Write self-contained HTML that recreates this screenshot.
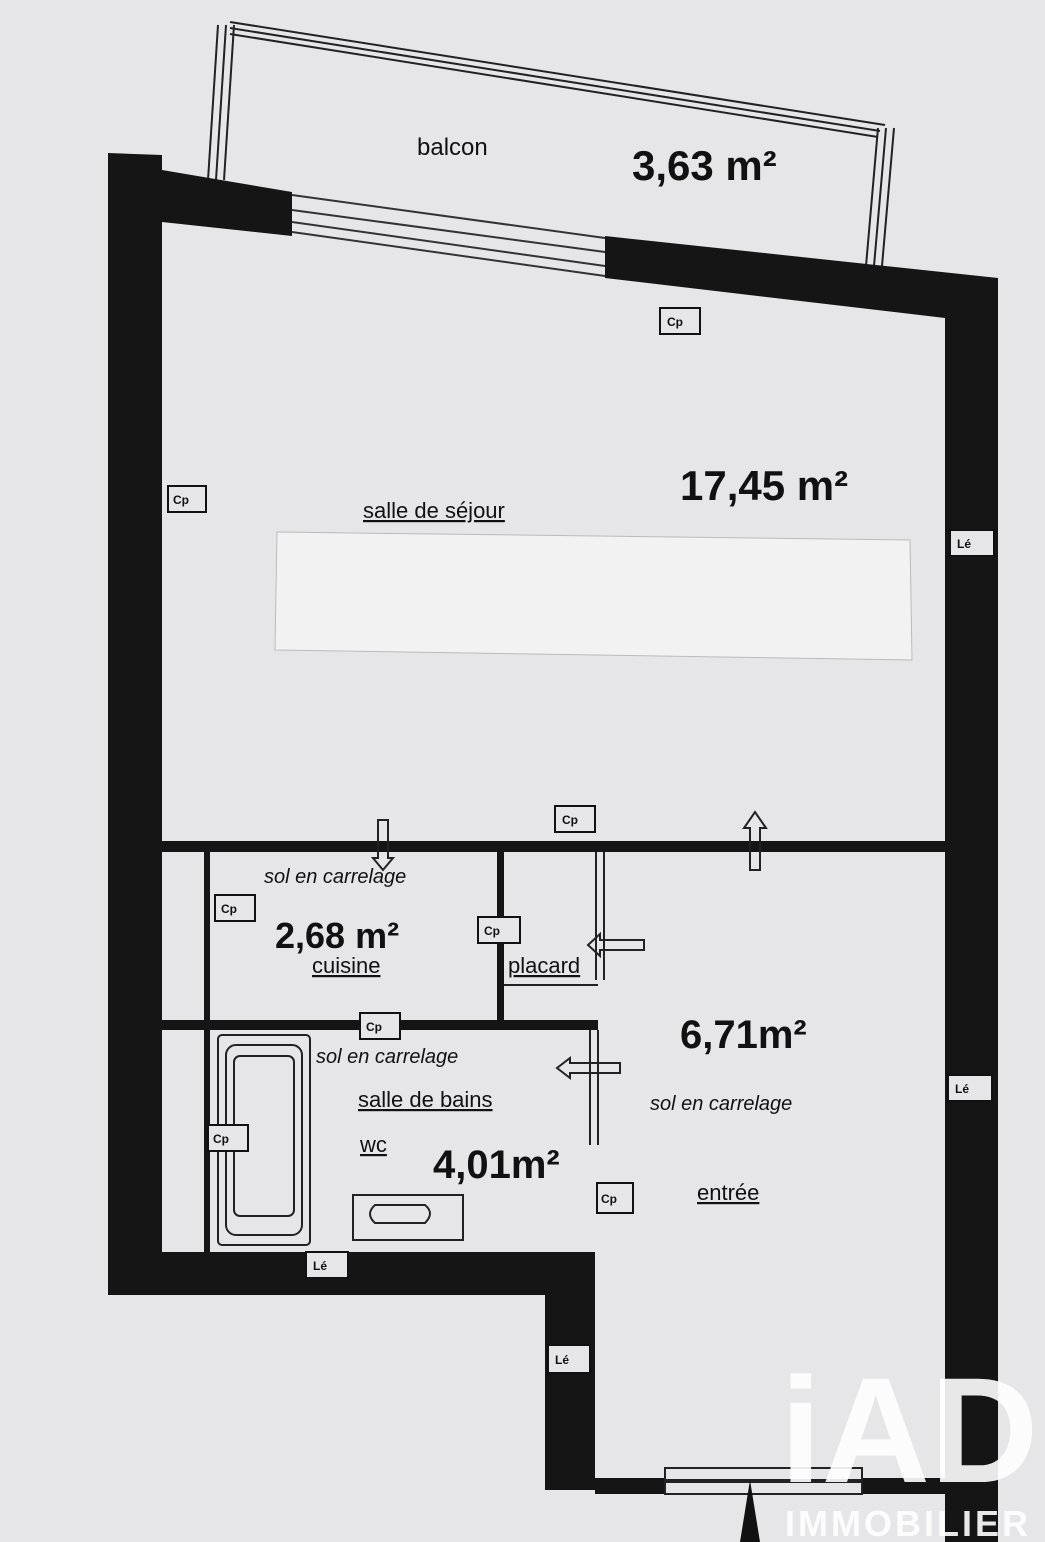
<!DOCTYPE html>
<html><head><meta charset="utf-8"><style>
body{margin:0;background:#e6e6e8;}
svg{display:block}
text{font-family:"Liberation Sans",sans-serif;fill:#111}
</style></head><body>
<svg width="1045" height="1542" viewBox="0 0 1045 1542">
<rect width="1045" height="1542" fill="#e6e6e8"/>
<!-- balcony -->
<g stroke="#222" stroke-width="2" fill="none">
<line x1="230" y1="22" x2="885" y2="125"/><line x1="230" y1="28" x2="880" y2="131"/><line x1="230" y1="34" x2="878" y2="137"/>
<line x1="218" y1="25" x2="208" y2="180"/><line x1="226" y1="25" x2="216" y2="180"/><line x1="234" y1="25" x2="224" y2="180"/>
<line x1="878" y1="128" x2="866" y2="266"/><line x1="886" y1="128" x2="874" y2="266"/><line x1="894" y1="128" x2="882" y2="266"/>
</g>
<!-- walls -->
<g fill="#151515">
<polygon points="108,153 162,155 162,170 292,192 292,236 162,222 162,1252 545,1252 545,1295 108,1295"/>
<polygon points="605,236 998,278 998,1542 945,1542 945,318 605,278"/>
<rect x="545" y="1252" width="50" height="238"/>
<rect x="595" y="1478" width="70" height="16"/>
<rect x="862" y="1478" width="83" height="16"/>
<rect x="162" y="841" width="783" height="11"/>
<rect x="162" y="1020" width="436" height="10"/>
<rect x="204" y="852" width="6" height="400"/>
<rect x="497" y="852" width="7" height="170"/>
</g>
<!-- window -->
<g stroke="#333" stroke-width="2"><line x1="292" y1="195" x2="605" y2="238"/><line x1="292" y1="210" x2="605" y2="252"/><line x1="292" y1="222" x2="605" y2="266"/><line x1="292" y1="232" x2="605" y2="276"/></g>
<!-- threshold -->
<rect x="665" y="1468" width="197" height="12" fill="none" stroke="#222" stroke-width="2"/>
<rect x="665" y="1482" width="197" height="12" fill="none" stroke="#222" stroke-width="2"/>
<polygon points="750,1480 740,1542 760,1542" fill="#111"/>
<!-- placard lines -->
<g stroke="#222" stroke-width="2" fill="none">
<line x1="596" y1="852" x2="596" y2="980"/><line x1="604" y1="852" x2="604" y2="980"/>
<line x1="590" y1="1030" x2="590" y2="1145"/><line x1="598" y1="1030" x2="598" y2="1145"/>
<line x1="504" y1="985" x2="598" y2="985"/>
<!-- arrows -->
<polygon points="378,820 388,820 388,858 393,858 383,870 373,858 378,858"/>
<polygon points="750,870 760,870 760,828 766,828 755,812 744,828 750,828"/>
<polygon points="644,940 644,950 600,950 600,956 588,945 600,934 600,940"/>
<polygon points="620,1063 620,1073 570,1073 570,1078 557,1068 570,1058 570,1063"/>
<!-- bath -->
<rect x="218" y="1035" width="92" height="210" rx="4"/>
<rect x="226" y="1045" width="76" height="190" rx="10"/>
<rect x="234" y="1056" width="60" height="160" rx="6"/>
<rect x="353" y="1195" width="110" height="45"/>
<path d="M375 1205 h50 q10 8 0 18 h-50 q-10 -9 0 -18z"/>
</g>
<!-- white label -->
<polygon points="277,532 910,540 912,660 275,650" fill="#f2f2f2" stroke="#bbb"/>
<!-- small boxes -->
<g fill="#e6e6e8" stroke="#111" stroke-width="2" font-size="11">
<rect x="660" y="308" width="40" height="26"/><rect x="168" y="486" width="38" height="26"/>
<rect x="555" y="806" width="40" height="26"/><rect x="950" y="530" width="44" height="26"/>
<rect x="215" y="895" width="40" height="26"/><rect x="478" y="917" width="42" height="26"/>
<rect x="360" y="1013" width="40" height="26"/><rect x="208" y="1125" width="40" height="26"/>
<rect x="597" y="1183" width="36" height="30"/><rect x="948" y="1075" width="44" height="26"/>
<rect x="306" y="1252" width="42" height="26"/><rect x="548" y="1345" width="42" height="28"/>
</g>
<g font-size="12" font-weight="bold">
<text x="667" y="326">Cp</text><text x="173" y="504">Cp</text><text x="562" y="824">Cp</text><text x="957" y="548">Lé</text>
<text x="221" y="913">Cp</text><text x="484" y="935">Cp</text><text x="366" y="1031">Cp</text><text x="213" y="1143">Cp</text>
<text x="601" y="1203">Cp</text><text x="955" y="1093">Lé</text><text x="313" y="1270">Lé</text><text x="555" y="1364">Lé</text>
</g>
<!-- labels -->
<text x="417" y="155" font-size="24">balcon</text>
<text x="632" y="180" font-size="42" font-weight="bold">3,63 m²</text>
<text x="680" y="500" font-size="42" font-weight="bold">17,45 m²</text>
<text x="363" y="518" font-size="22" text-decoration="underline">salle de séjour</text>
<text x="264" y="883" font-size="20" font-style="italic">sol en carrelage</text>
<text x="275" y="948" font-size="36" font-weight="bold">2,68 m²</text>
<text x="312" y="973" font-size="22" text-decoration="underline">cuisine</text>
<text x="508" y="973" font-size="22" text-decoration="underline">placard</text>
<text x="316" y="1063" font-size="20" font-style="italic">sol en carrelage</text>
<text x="358" y="1107" font-size="22" text-decoration="underline">salle de bains</text>
<text x="360" y="1152" font-size="22" text-decoration="underline">wc</text>
<text x="433" y="1178" font-size="40" font-weight="bold">4,01m²</text>
<text x="680" y="1048" font-size="40" font-weight="bold">6,71m²</text>
<text x="650" y="1110" font-size="20" font-style="italic">sol en carrelage</text>
<text x="697" y="1200" font-size="22" text-decoration="underline">entrée</text>
<!-- logo -->
<g fill="#fff">
<text x="780" y="1482" font-size="150" font-weight="bold" style="fill:#fff;opacity:.9">iAD</text>
<text x="785" y="1536" font-size="36" font-weight="bold" letter-spacing="3" style="fill:#fff;opacity:.9">IMMOBILIER</text>
</g>
</svg>
</body></html>
